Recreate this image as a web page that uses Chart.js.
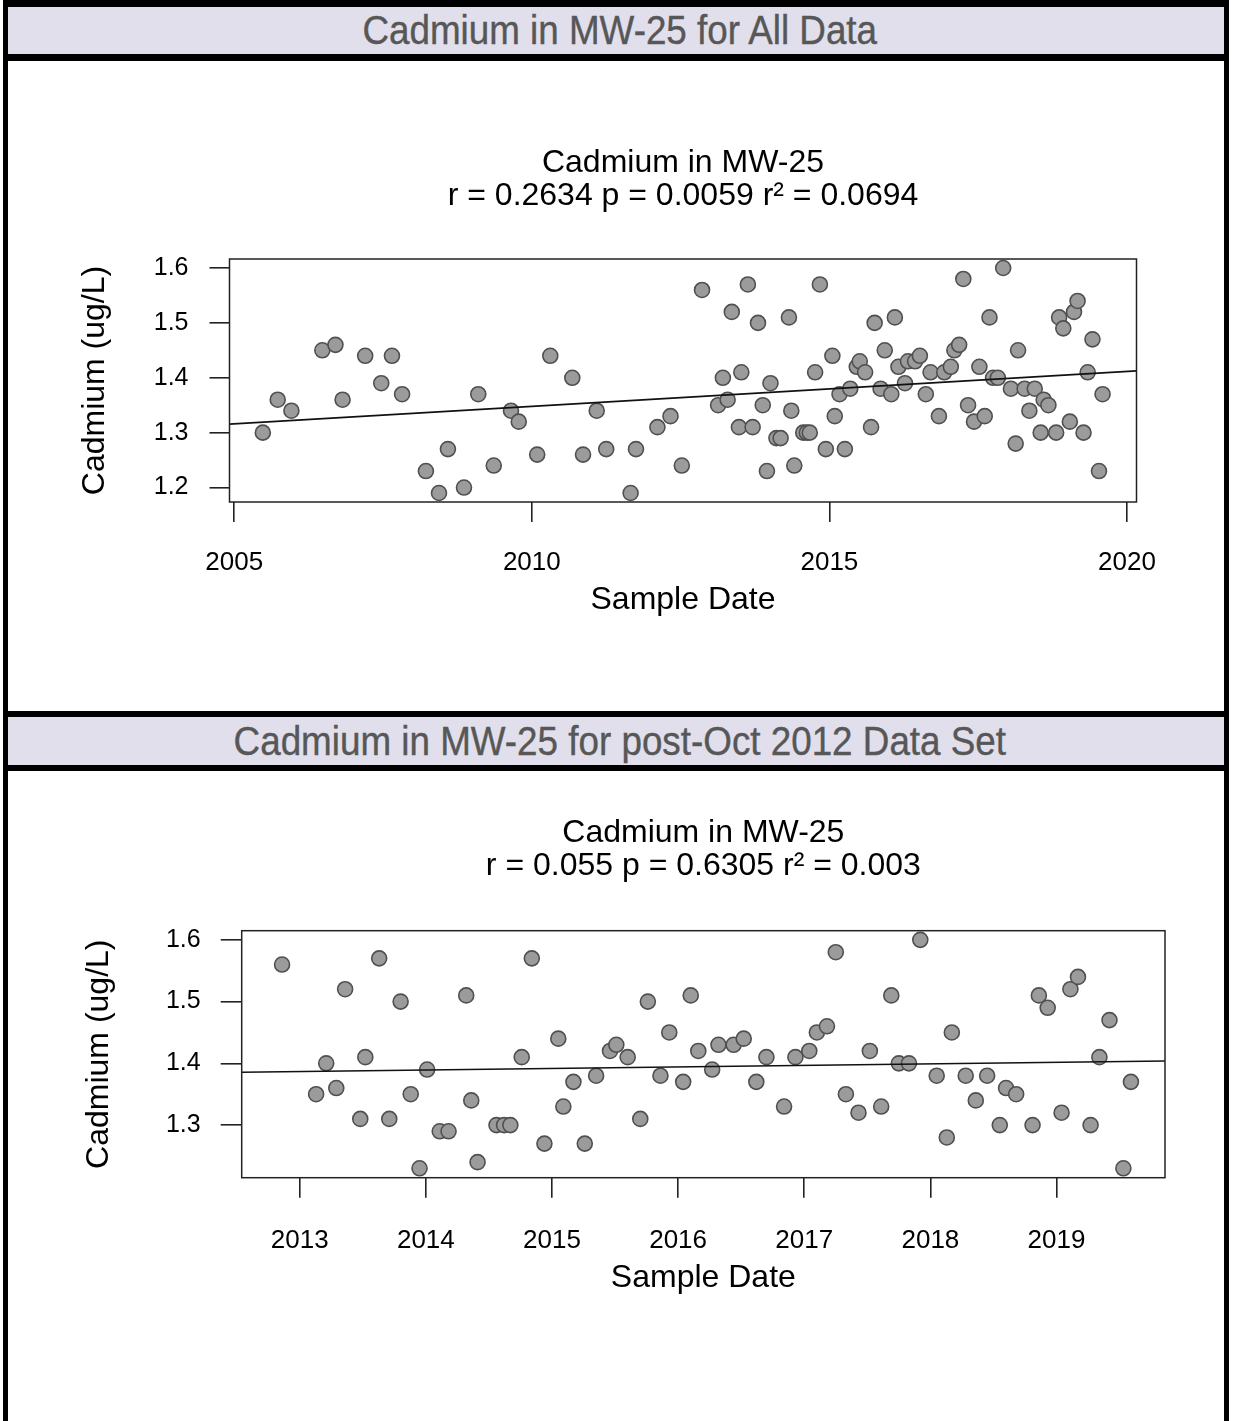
<!DOCTYPE html>
<html>
<head>
<meta charset="utf-8">
<title>Cadmium in MW-25</title>
<script src="https://cdn.jsdelivr.net/npm/chart.js@4.4.0/dist/chart.umd.min.js"></script>
<style>
  body { margin: 0; background: #fff; width: 1233px; height: 1421px; position: relative; overflow: hidden; }
  .blk { position: absolute; background: #000; z-index: 3; }
  .head {
    position: absolute; left: 8px; width: 1216px; height: 47px; z-index: 2;
    background: #e1dfec; color: #575757; text-align: center; line-height: 47px;
    font-family: "Liberation Sans", Arial, sans-serif;
    font-size: 40px; padding-left: 8px; box-sizing: border-box; white-space: nowrap;
  }
  .head span { display: inline-block; transform: scaleX(0.92); -webkit-text-stroke: 0.4px #575757; }
  canvas { position: absolute; left: 0; z-index: 1; }
</style>
</head>
<body>
<div class="blk" style="left:3px;top:0;width:1226px;height:7px"></div>
<div class="head" style="top:7px"><span>Cadmium in MW-25 for All Data</span></div>
<div class="blk" style="left:3px;top:54px;width:1226px;height:7px"></div>
<canvas id="chartAll" width="1233" height="650" style="top:61px"></canvas>
<div class="blk" style="left:3px;top:711px;width:1226px;height:6px"></div>
<div class="head" style="top:717px;height:48px;line-height:48px"><span>Cadmium in MW-25 for post-Oct 2012 Data Set</span></div>
<div class="blk" style="left:3px;top:765px;width:1226px;height:6px"></div>
<canvas id="chartPost" width="1233" height="650" style="top:771px"></canvas>
<div class="blk" style="left:3px;top:0;width:5px;height:1421px"></div>
<div class="blk" style="left:1224px;top:0;width:5px;height:1421px"></div>

<script>
// sample dates (decimal years) and cadmium results
const sampleDates = [
  2005.48, 2005.73, 2005.96, 2006.48, 2006.70, 2006.82, 2007.20, 2007.47, 2007.65, 2007.82,
  2008.22, 2008.44, 2008.59, 2008.86, 2009.10, 2009.36, 2009.65, 2009.78, 2010.09, 2010.31,
  2010.68, 2010.86, 2011.09, 2011.25, 2011.66, 2011.75, 2012.11, 2012.33, 2012.52,
  2012.86, 2013.13, 2013.21, 2013.29, 2013.36, 2013.48, 2013.52, 2013.63, 2013.71, 2013.80,
  2013.88, 2013.95, 2014.01, 2014.11, 2014.18, 2014.32, 2014.36, 2014.41, 2014.56, 2014.62,
  2014.67, 2014.76, 2014.84, 2014.94, 2015.05, 2015.09, 2015.17, 2015.26, 2015.35, 2015.46,
  2015.51, 2015.60, 2015.70, 2015.76, 2015.86, 2015.93, 2016.04, 2016.10, 2016.16, 2016.27,
  2016.32, 2016.44, 2016.52, 2016.62, 2016.70, 2016.84, 2016.93, 2017.04, 2017.10, 2017.18,
  2017.25, 2017.33, 2017.43, 2017.52, 2017.61, 2017.69, 2017.75, 2017.83, 2017.92, 2018.05,
  2018.13, 2018.17, 2018.28, 2018.36, 2018.45, 2018.55, 2018.60, 2018.68, 2018.81, 2018.86,
  2018.93, 2019.04, 2019.11, 2019.17, 2019.27, 2019.34, 2019.42, 2019.53, 2019.59
];
const cadmium = [
  1.30, 1.36, 1.34, 1.45, 1.46, 1.36, 1.44, 1.39, 1.44, 1.37,
  1.23, 1.19, 1.27, 1.20, 1.37, 1.24, 1.34, 1.32, 1.26, 1.44,
  1.40, 1.26, 1.34, 1.27, 1.19, 1.27, 1.31, 1.33, 1.24,
  1.56, 1.35, 1.40, 1.36, 1.52, 1.31, 1.41, 1.57, 1.31, 1.50,
  1.35, 1.23, 1.39, 1.29, 1.29, 1.51, 1.34, 1.24, 1.30, 1.30,
  1.30, 1.41, 1.57, 1.27, 1.44, 1.33, 1.37, 1.27, 1.38, 1.42,
  1.43, 1.41, 1.31, 1.50, 1.38, 1.45, 1.37, 1.51, 1.42, 1.39,
  1.43, 1.43, 1.44, 1.37, 1.41, 1.33, 1.41, 1.42, 1.45, 1.46,
  1.58, 1.35, 1.32, 1.42, 1.33, 1.51, 1.40, 1.40, 1.60, 1.38,
  1.28, 1.45, 1.38, 1.34, 1.38, 1.30, 1.36, 1.35, 1.30, 1.51,
  1.49, 1.32, 1.52, 1.54, 1.30, 1.41, 1.47, 1.23, 1.37
];
const postCutoff = 2012.75; // Oct 2012

const xTicksAll = [2005, 2010, 2015, 2020];
const xTicksPost = [2013, 2014, 2015, 2016, 2017, 2018, 2019];
const yTicksAll = [1.2, 1.3, 1.4, 1.5, 1.6];
const yTicksPost = [1.3, 1.4, 1.5, 1.6];

const titleAll = ['Cadmium in MW-25', 'r = 0.2634 p = 0.0059 r\u00B2 = 0.0694'];
const titlePost = ['Cadmium in MW-25', 'r = 0.055 p = 0.6305 r\u00B2 = 0.003'];

const FONT = '"Liberation Sans", Arial, Helvetica, sans-serif';

// least squares line, like lm() in the original plots
function fitLine(xs, ys) {
  const n = xs.length;
  const mx = xs.reduce((a, b) => a + b, 0) / n;
  const my = ys.reduce((a, b) => a + b, 0) / n;
  let sxy = 0, sxx = 0;
  for (let i = 0; i < n; i++) {
    sxy += (xs[i] - mx) * (ys[i] - my);
    sxx += (xs[i] - mx) * (xs[i] - mx);
  }
  const slope = sxy / sxx;
  return { slope: slope, intercept: my - slope * mx };
}

// box round the plot region
const boxPlugin = {
  id: 'plotBox',
  afterDatasetsDraw(chart) {
    const a = chart.chartArea;
    const ctx = chart.ctx;
    ctx.save();
    ctx.strokeStyle = '#222';
    ctx.lineWidth = 1.5;
    ctx.strokeRect(a.left, a.top, a.right - a.left, a.bottom - a.top);
    ctx.restore();
  }
};

function drawPanel(canvasId, xs, ys, opt) {
  const fit = fitLine(xs, ys);
  const points = xs.map((x, i) => ({ x: x, y: ys[i] }));
  const ctx = document.getElementById(canvasId).getContext('2d');

  return new Chart(ctx, {
    type: 'scatter',
    data: {
      datasets: [
        {
          type: 'line',
          data: [
            { x: opt.xMin, y: fit.intercept + fit.slope * opt.xMin },
            { x: opt.xMax, y: fit.intercept + fit.slope * opt.xMax }
          ],
          borderColor: '#111',
          borderWidth: 1.6,
          pointRadius: 0,
          fill: false
        },
        {
          data: points,
          backgroundColor: '#9b9b9b',
          borderColor: '#505050',
          borderWidth: 1.6,
          pointRadius: 7.5
        }
      ]
    },
    options: {
      responsive: false,
      animation: false,
      devicePixelRatio: 1,
      layout: { padding: opt.padding },
      plugins: {
        legend: { display: false },
        tooltip: { enabled: false },
        title: {
          display: true,
          fullSize: false,
          text: opt.title,
          color: '#000',
          font: { family: FONT, size: 32, weight: 'normal', lineHeight: '33px' },
          padding: { top: 0, bottom: opt.titleGap }
        }
      },
      scales: {
        x: {
          type: 'linear',
          min: opt.xMin,
          max: opt.xMax,
          afterBuildTicks: s => { s.ticks = opt.xTicks.map(v => ({ value: v })); },
          afterFit: s => { s.height = opt.xAxisHeight; },
          ticks: {
            callback: v => String(v),
            color: '#000',
            font: { family: FONT, size: 26 },
            padding: opt.xLabelPad,
            maxRotation: 0,
            autoSkip: false
          },
          grid: { drawOnChartArea: false, tickLength: 20, color: '#222', lineWidth: 1.6 },
          border: { display: false },
          title: {
            display: true,
            text: 'Sample Date',
            color: '#000',
            font: { family: FONT, size: 32 },
            padding: 0
          }
        },
        y: {
          type: 'linear',
          min: opt.yMin,
          max: opt.yMax,
          afterBuildTicks: s => { s.ticks = opt.yTicks.map(v => ({ value: v })); },
          afterFit: s => { s.width = opt.yAxisWidth; },
          ticks: {
            callback: v => v.toFixed(1),
            color: '#000',
            font: { family: FONT, size: 25 },
            padding: opt.yLabelPad
          },
          grid: { drawOnChartArea: false, tickLength: opt.yTickLen, color: '#222', lineWidth: 1.6 },
          border: { display: false },
          title: {
            display: true,
            text: 'Cadmium (ug/L)',
            color: '#000',
            font: { family: FONT, size: 32 },
            padding: 0
          }
        }
      }
    },
    plugins: [boxPlugin]
  });
}

document.addEventListener('DOMContentLoaded', function () {
  drawPanel('chartAll', sampleDates, cadmium, {
    title: titleAll,
    xMin: 2004.92, xMax: 2020.16,
    yMin: 1.1736, yMax: 1.6164,
    xTicks: xTicksAll, yTicks: yTicksAll,
    padding: { left: 76, right: 96.5, top: 85.5, bottom: 91.8 },
    titleGap: 46.5,
    yAxisWidth: 153.5, yLabelPad: 21, yTickLen: 20,
    xAxisHeight: 117.2, xLabelPad: 25.4
  });

  const postDates = [];
  const postValues = [];
  sampleDates.forEach((d, i) => {
    if (d >= postCutoff) {
      postDates.push(d);
      postValues.push(cadmium[i]);
    }
  });

  drawPanel('chartPost', postDates, postValues, {
    title: titlePost,
    xMin: 2012.54, xMax: 2019.86,
    yMin: 1.2148, yMax: 1.6148,
    xTicks: xTicksPost, yTicks: yTicksPost,
    padding: { left: 79.8, right: 68, top: 45.5, bottom: 123.8 },
    titleGap: 48.2,
    yAxisWidth: 161.9, yLabelPad: 20, yTickLen: 21,
    xAxisHeight: 119.5, xLabelPad: 27.7
  });
});
</script>
</body>
</html>
